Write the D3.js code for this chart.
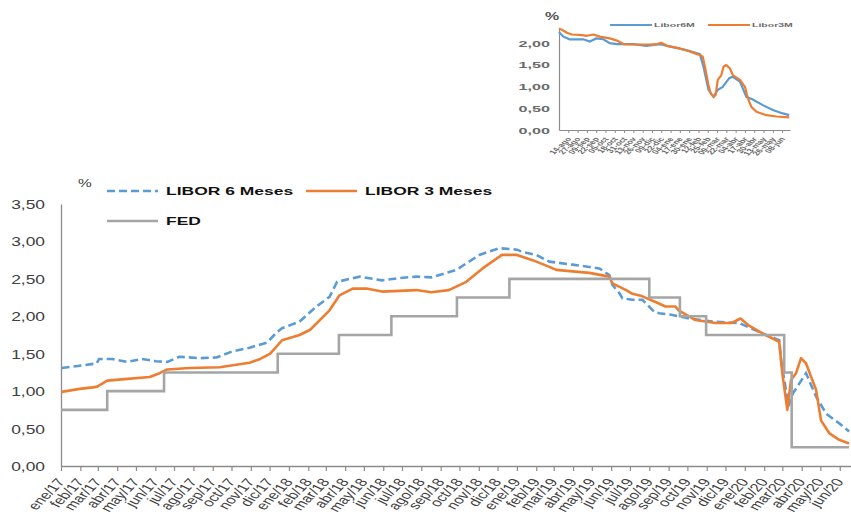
<!DOCTYPE html>
<html>
<head>
<meta charset="utf-8">
<script src="https://cdn.jsdelivr.net/npm/d3@7"></script>
<style>
  body { margin: 0; background: #fff; }
  svg { display: block; font-family: "Liberation Sans", Arial, sans-serif; }
</style>
</head>
<body>
<svg id="chart" width="851" height="514"></svg>
<script>
// ---------- data ----------
const monthNames = ["ene", "feb", "mar", "abr", "may", "jun", "jul", "ago", "sep", "oct", "nov", "dic"];
const yTicks = [0, 0.5, 1, 1.5, 2, 2.5, 3, 3.5];
const insetYTicks = [0, 0.5, 1, 1.5, 2];
const seriesNames = ["LIBOR 6 Meses", "LIBOR 3 Meses", "FED"];
const insetSeriesNames = ["Libor6M", "Libor3M"];

// Fed funds target (upper bound), value holds from each date onward
const fedDates = ["2017-01-01", "2017-03-16", "2017-06-15", "2017-12-14", "2018-03-22", "2018-06-14",
  "2018-09-27", "2018-12-20", "2019-08-01", "2019-09-19", "2019-10-31", "2020-03-04", "2020-03-16", "2020-06-16"];
const fedRates = [0.75, 1.00, 1.25, 1.50, 1.75, 2.00, 2.25, 2.50, 2.25, 2.00, 1.75, 1.25, 0.25, 0.25];

const libor6mDates = ["2017-01-02", "2017-01-31", "2017-02-27", "2017-03-03", "2017-03-24", "2017-04-17",
  "2017-05-11", "2017-06-02", "2017-06-20", "2017-07-10", "2017-08-10", "2017-09-07", "2017-10-02",
  "2017-10-30", "2017-11-27", "2017-12-13", "2017-12-21", "2018-01-18", "2018-02-14", "2018-03-07",
  "2018-03-19", "2018-04-24", "2018-05-30", "2018-06-27", "2018-07-24", "2018-08-17", "2018-09-26",
  "2018-11-02", "2018-12-04", "2019-01-01", "2019-01-10", "2019-02-01", "2019-02-22", "2019-03-31",
  "2019-05-13", "2019-05-29", "2019-06-03", "2019-06-14", "2019-06-19", "2019-07-05", "2019-07-21",
  "2019-08-09", "2019-08-17", "2019-09-05", "2019-10-04", "2019-11-10", "2019-12-23", "2020-01-24",
  "2020-02-25", "2020-02-28", "2020-03-11", "2020-03-18", "2020-04-08", "2020-04-24", "2020-05-10",
  "2020-05-31", "2020-06-16"];
const libor6mValues = [1.31, 1.34, 1.37, 1.43, 1.43, 1.39,
  1.43, 1.40, 1.39, 1.46, 1.44, 1.45, 1.53,
  1.58, 1.65, 1.79, 1.84, 1.93, 2.13, 2.26,
  2.46, 2.53, 2.48, 2.51, 2.53, 2.52, 2.62,
  2.82, 2.91, 2.89, 2.86, 2.82, 2.73, 2.69,
  2.64, 2.55, 2.42, 2.31, 2.24, 2.22, 2.22,
  2.06, 2.04, 2.02, 1.97, 1.93, 1.91, 1.79,
  1.68, 1.42, 0.80, 0.97, 1.24, 0.93, 0.70,
  0.57, 0.46];

const libor3mDates = ["2017-01-02", "2017-01-31", "2017-02-21", "2017-02-28", "2017-03-16", "2017-04-13",
  "2017-05-23", "2017-06-08", "2017-06-20", "2017-07-26", "2017-09-12", "2017-10-30", "2017-11-16",
  "2017-12-02", "2017-12-21", "2018-01-18", "2018-02-04", "2018-03-07", "2018-03-23", "2018-04-13",
  "2018-05-05", "2018-05-30", "2018-07-24", "2018-08-17", "2018-09-14", "2018-10-12", "2018-11-07",
  "2018-12-08", "2018-12-20", "2019-01-01", "2019-01-26", "2019-02-22", "2019-03-05", "2019-04-27",
  "2019-05-29", "2019-06-03", "2019-06-25", "2019-07-05", "2019-07-20", "2019-08-11", "2019-08-27",
  "2019-09-12", "2019-09-17", "2019-10-14", "2019-11-15", "2019-12-11", "2019-12-25", "2020-01-07",
  "2020-02-03", "2020-02-25", "2020-03-01", "2020-03-09", "2020-03-15", "2020-03-23", "2020-03-31",
  "2020-04-08", "2020-04-24", "2020-05-02", "2020-05-15", "2020-05-31", "2020-06-16"];
const libor3mValues = [0.99, 1.03, 1.05, 1.06, 1.14, 1.16,
  1.19, 1.24, 1.29, 1.31, 1.32, 1.38, 1.43,
  1.50, 1.68, 1.75, 1.82, 2.08, 2.28, 2.37,
  2.37, 2.33, 2.35, 2.32, 2.35, 2.46, 2.64,
  2.82, 2.82, 2.82, 2.75, 2.66, 2.62, 2.58,
  2.53, 2.44, 2.35, 2.30, 2.27, 2.19, 2.13,
  2.13, 2.08, 1.95, 1.91, 1.91, 1.97, 1.88,
  1.75, 1.66, 1.24, 0.75, 1.15, 1.24, 1.44,
  1.37, 1.02, 0.61, 0.44, 0.35, 0.30];

// Recent period (Aug 2019 - Jun 2020), small panel
const inset6mDates = ["2019-08-01", "2019-08-07", "2019-08-16", "2019-09-04", "2019-09-13", "2019-09-22",
  "2019-10-02", "2019-10-11", "2019-10-21", "2019-11-13", "2019-12-01", "2019-12-20", "2020-01-07",
  "2020-01-26", "2020-02-14", "2020-02-19", "2020-02-26", "2020-03-04", "2020-03-10", "2020-03-17",
  "2020-03-26", "2020-03-31", "2020-04-10", "2020-04-19", "2020-04-28", "2020-05-12", "2020-05-26",
  "2020-06-09", "2020-06-18"];
const inset6mValues = [2.25, 2.14, 2.08, 2.08, 2.03, 2.10,
  2.08, 1.99, 1.97, 1.97, 1.93, 1.97, 1.90,
  1.83, 1.74, 1.45, 0.92, 0.76, 0.92, 0.99,
  1.19, 1.22, 1.11, 0.76, 0.70, 0.57, 0.46,
  0.38, 0.34];
const inset3mDates = ["2019-08-01", "2019-08-07", "2019-08-12", "2019-08-19", "2019-08-30", "2019-09-09",
  "2019-09-18", "2019-09-27", "2019-10-11", "2019-10-21", "2019-10-30", "2019-11-08", "2019-11-22",
  "2019-12-06", "2019-12-16", "2019-12-22", "2019-12-30", "2020-01-17", "2020-01-31", "2020-02-10",
  "2020-02-14", "2020-02-18", "2020-02-21", "2020-02-26", "2020-02-29", "2020-03-04", "2020-03-07",
  "2020-03-10", "2020-03-15", "2020-03-18", "2020-03-22", "2020-03-27", "2020-03-31", "2020-04-10",
  "2020-04-17", "2020-04-21", "2020-04-26", "2020-05-03", "2020-05-17", "2020-05-31", "2020-06-18"];
const inset3mValues = [2.33, 2.28, 2.23, 2.19, 2.18, 2.16,
  2.19, 2.14, 2.10, 2.05, 1.97, 1.96, 1.96,
  1.96, 1.97, 2.00, 1.93, 1.87, 1.80, 1.74,
  1.72, 1.68, 1.45, 1.03, 0.84, 0.76, 0.80,
  1.15, 1.26, 1.45, 1.49, 1.41, 1.26, 1.15,
  0.99, 0.73, 0.53, 0.42, 0.34, 0.31, 0.29];

// ---------- helpers ----------
const parse = d3.timeParse("%Y-%m-%d");
const zip = (dates, values) => dates.map((d, i) => ({ date: parse(d), value: values[i] }));
const fmtComma = v => d3.format(".2f")(v).replace(".", ",");
const monthLabel = d => monthNames[d.getMonth()] + "/" + String(d.getFullYear()).slice(2);
const dayLabel = d => d3.timeFormat("%d")(d) + "-" + monthNames[d.getMonth()];

const COL6 = "#5b9bd5", COL3 = "#ed7d31", COLFED = "#a5a5a5", AXIS = "#8c8c8c", TXT = "#404040";

const svg = d3.select("#chart");

// ---------- main chart ----------
const x = d3.scaleTime().domain([parse("2017-01-01"), parse("2020-06-19")]).range([61, 851]);
const y = d3.scaleLinear().domain([0, 3.5]).range([466, 204]);

const line = d3.line().x(d => x(d.date)).y(d => y(d.value));
const stepLine = d3.line().x(d => x(d.date)).y(d => y(d.value)).curve(d3.curveStepAfter);

// axes
const xAxis = svg.append("g").attr("transform", `translate(0,${y(0)})`)
  .call(d3.axisBottom(x)
    .tickValues(d3.timeMonth.range(parse("2017-01-01"), parse("2020-07-01")))
    .tickSize(5).tickSizeOuter(0).tickFormat(monthLabel));
xAxis.select(".domain").attr("stroke", AXIS).attr("stroke-width", 1.3);
xAxis.selectAll(".tick line").attr("stroke", AXIS).attr("stroke-width", 1.2);
xAxis.selectAll(".tick text")
  .attr("x", 0).attr("y", 0).attr("dy", 0)
  .attr("text-anchor", "end")
  .attr("transform", "translate(4,16) scale(1.45,1) rotate(-55)")
  .attr("font-size", 11.5).attr("fill", TXT);

const yAxis = svg.append("g").attr("transform", `translate(${x.range()[0]},0)`)
  .call(d3.axisLeft(y).tickValues(yTicks).tickSize(0).tickSizeOuter(0).tickFormat(fmtComma));
yAxis.select(".domain").attr("stroke", AXIS).attr("stroke-width", 1.3);
yAxis.selectAll(".tick text")
  .attr("x", 0).attr("dy", 0)
  .attr("text-anchor", "end")
  .attr("transform", "translate(-16,4.5) scale(1.45,1)")
  .attr("font-size", 12).attr("fill", TXT);

// series
svg.append("path").datum(zip(libor6mDates, libor6mValues))
  .attr("d", line).attr("fill", "none").attr("stroke", COL6)
  .attr("stroke-width", 2.6).attr("stroke-dasharray", "8,4");
svg.append("path").datum(zip(libor3mDates, libor3mValues))
  .attr("d", line).attr("fill", "none").attr("stroke", COL3)
  .attr("stroke-width", 2.6).attr("stroke-linejoin", "round");
svg.append("path").datum(zip(fedDates, fedRates))
  .attr("d", stepLine).attr("fill", "none").attr("stroke", COLFED).attr("stroke-width", 2.6);

// unit + legend
svg.append("text").attr("transform", "translate(78,187) scale(1.4,1)")
  .attr("font-size", 11).attr("fill", TXT).text("%");

const legendItems = [
  { name: seriesNames[0], color: COL6, dash: "8,4", lx: 107, ly: 191 },
  { name: seriesNames[1], color: COL3, dash: null, lx: 306, ly: 191 },
  { name: seriesNames[2], color: COLFED, dash: null, lx: 107, ly: 221 }
];
const lg = svg.append("g").selectAll("g").data(legendItems).join("g");
lg.append("line")
  .attr("x1", d => d.lx).attr("x2", d => d.lx + 51)
  .attr("y1", d => d.ly).attr("y2", d => d.ly)
  .attr("stroke", d => d.color).attr("stroke-width", 2.6)
  .attr("stroke-dasharray", d => d.dash);
lg.append("text")
  .attr("transform", d => `translate(${d.lx + 59},${d.ly + 4}) scale(1.52,1)`)
  .attr("font-size", 11.5).attr("font-weight", "bold").attr("fill", "#111")
  .text(d => d.name);

// ---------- small panel ----------
const xi = d3.scaleTime().domain([parse("2019-08-01"), parse("2020-06-19")]).range([559, 790]);
const yi = d3.scaleLinear().domain([0, 2.35]).range([130, 27.5]);
const lineI = d3.line().x(d => xi(d.date)).y(d => yi(d.value));

const insetTicks = d3.range(0, 24).map(i => d3.timeDay.offset(parse("2019-08-14"), 13 * i))
  .filter(d => d <= xi.domain()[1]);

const xiAxis = svg.append("g").attr("transform", `translate(0,${yi(0)})`)
  .call(d3.axisBottom(xi).tickValues(insetTicks).tickSize(3).tickSizeOuter(0).tickFormat(dayLabel));
xiAxis.select(".domain").attr("stroke", AXIS).attr("stroke-width", 1.2);
xiAxis.selectAll(".tick line").attr("stroke", AXIS);
xiAxis.selectAll(".tick text")
  .attr("x", 0).attr("y", 0).attr("dy", 0)
  .attr("text-anchor", "end")
  .attr("transform", "translate(3,9) scale(1.6,1) rotate(-55)")
  .attr("font-size", 6).attr("font-weight", "bold").attr("fill", "#6a6a6a");

const yiAxis = svg.append("g").attr("transform", `translate(${xi.range()[0]},0)`)
  .call(d3.axisLeft(yi).tickValues(insetYTicks).tickSize(0).tickSizeOuter(0).tickFormat(fmtComma));
yiAxis.select(".domain").attr("stroke", AXIS).attr("stroke-width", 1.2);
yiAxis.selectAll(".tick text")
  .attr("x", 0).attr("dy", 0)
  .attr("text-anchor", "end")
  .attr("transform", "translate(-9,3.3) scale(1.8,1)")
  .attr("font-size", 9).attr("font-weight", "bold").attr("fill", "#6a6a6a");

svg.append("path").datum(zip(inset6mDates, inset6mValues))
  .attr("d", lineI).attr("fill", "none").attr("stroke", COL6).attr("stroke-width", 2.2);
svg.append("path").datum(zip(inset3mDates, inset3mValues))
  .attr("d", lineI).attr("fill", "none").attr("stroke", COL3).attr("stroke-width", 2.2)
  .attr("stroke-linejoin", "round");

svg.append("text").attr("transform", "translate(545,20) scale(1.45,1)")
  .attr("font-size", 11).attr("font-weight", "bold").attr("fill", "#555").text("%");

const insetLegend = [
  { name: insetSeriesNames[0], color: COL6, lx: 610 },
  { name: insetSeriesNames[1], color: COL3, lx: 708 }
];
const ilg = svg.append("g").selectAll("g").data(insetLegend).join("g");
ilg.append("line")
  .attr("x1", d => d.lx).attr("x2", d => d.lx + 42)
  .attr("y1", 25).attr("y2", 25)
  .attr("stroke", d => d.color).attr("stroke-width", 2.2);
ilg.append("text")
  .attr("transform", d => `translate(${d.lx + 44},27.2) scale(1.75,1)`)
  .attr("font-size", 6).attr("font-weight", "bold").attr("fill", "#6a6a6a")
  .text(d => d.name);
</script>
</body>
</html>
